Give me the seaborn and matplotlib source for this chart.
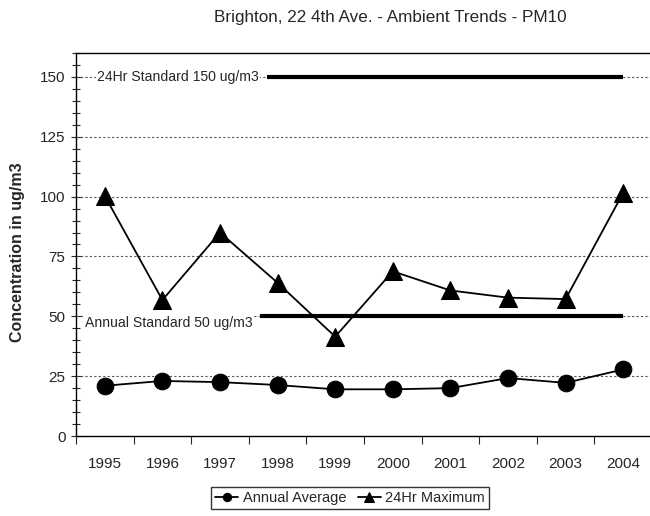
import matplotlib
matplotlib.use("Agg")
import matplotlib.pyplot as plt
import seaborn as sns
import pandas as pd
from matplotlib.ticker import MultipleLocator, FixedLocator

years = ["1995", "1996", "1997", "1998", "1999", "2000", "2001", "2002", "2003", "2004"]
annual_average = [21, 23, 22.5, 21.3, 19.5, 19.5, 20, 24.2, 22.2, 27.8]
max_24hr = [100.3, 56.8, 85, 64, 41.5, 68.8, 60.8, 57.8, 57.2, 101.6]
std_24hr = 150
std_annual = 50
title = "Brighton, 22 4th Ave. - Ambient Trends - PM10"
ylabel = "Concentration in ug/m3"
label_avg = "Annual Average"
label_max = "24Hr Maximum"
label_std24 = "24Hr Standard 150 ug/m3"
label_stdann = "Annual Standard 50 ug/m3"

sns.set_style("white")
plt.rcParams["font.family"] = ["Liberation Sans", "DejaVu Sans"]

fig = plt.figure(figsize=(6.5, 5.16), dpi=100)
ax = fig.add_axes([76/650, 1-436/516, 576/650, 383/516])

df = pd.DataFrame({"Year": years, "avg": annual_average, "max": max_24hr})

sns.lineplot(data=df, x="Year", y="avg", ax=ax, color="black", marker="o",
             markersize=12, linewidth=1.3, markeredgecolor="black", label=label_avg, zorder=5)
sns.lineplot(data=df, x="Year", y="max", ax=ax, color="black", marker="^",
             markersize=13.5, linewidth=1.3, markeredgecolor="black", label=label_max, zorder=5)

ax.set_xlim(-0.5, len(years) - 0.5)
ax.set_ylim(0, 160)

# gridlines
for v in [25, 50, 75, 100, 125, 150]:
    ax.axhline(v, color="#555555", linestyle=(0, (2, 2)), linewidth=0.8, zorder=1)

# standards
ax.hlines(std_24hr, 2.82, len(years) - 1, color="black", linewidth=3, zorder=3)
ax.hlines(std_annual, 2.69, len(years) - 1, color="black", linewidth=3, zorder=3)
ax.text(-0.135, std_24hr, label_std24, ha="left", va="center", fontsize=10.1,
        bbox=dict(facecolor="white", edgecolor="none", pad=1), zorder=2)
ax.text(-0.34, std_annual - 3, label_stdann, ha="left", va="center", fontsize=10.1,
        bbox=dict(facecolor="white", edgecolor="none", pad=1), zorder=2)

# ticks
ax.yaxis.set_major_locator(MultipleLocator(25))
ax.yaxis.set_minor_locator(MultipleLocator(5))
ax.tick_params(axis="y", which="major", direction="inout", length=7, width=0.8,
               labelsize=11, left=True, pad=4)
ax.tick_params(axis="y", which="minor", direction="inout", length=6, width=0.8, left=True)
ax.xaxis.set_minor_locator(FixedLocator([i + 0.5 for i in range(-1, len(years))]))
ax.tick_params(axis="x", which="major", length=0, labelsize=11, pad=15)
ax.tick_params(axis="x", which="minor", direction="out", length=6, width=0.8, bottom=True)

for s in ["left", "bottom", "top"]:
    ax.spines[s].set_visible(True)
    ax.spines[s].set_color("black")
    ax.spines[s].set_linewidth(1)
ax.spines["right"].set_visible(False)
ax.set_xlabel("")
ax.set_ylabel("")

fig.text(390/650, 1-17/516, title, ha="center", va="center", fontsize=12.3)
fig.text(18/650, 1-252/516, ylabel, ha="center", va="center", rotation=90,
         fontsize=11.5, fontweight="bold")

ax.legend_.remove()
handles, labels = ax.get_legend_handles_labels()
leg = fig.legend(handles, labels, loc="center", bbox_to_anchor=(350/650, 1-498/516),
                 ncol=2, frameon=True, fancybox=False, edgecolor="black", fontsize=10.5,
                 handlelength=1.6, handletextpad=0.3, columnspacing=0.8,
                 borderpad=0.25, markerscale=0.5)
leg.get_frame().set_linewidth(1)

fig.savefig("out.png", dpi=100)
